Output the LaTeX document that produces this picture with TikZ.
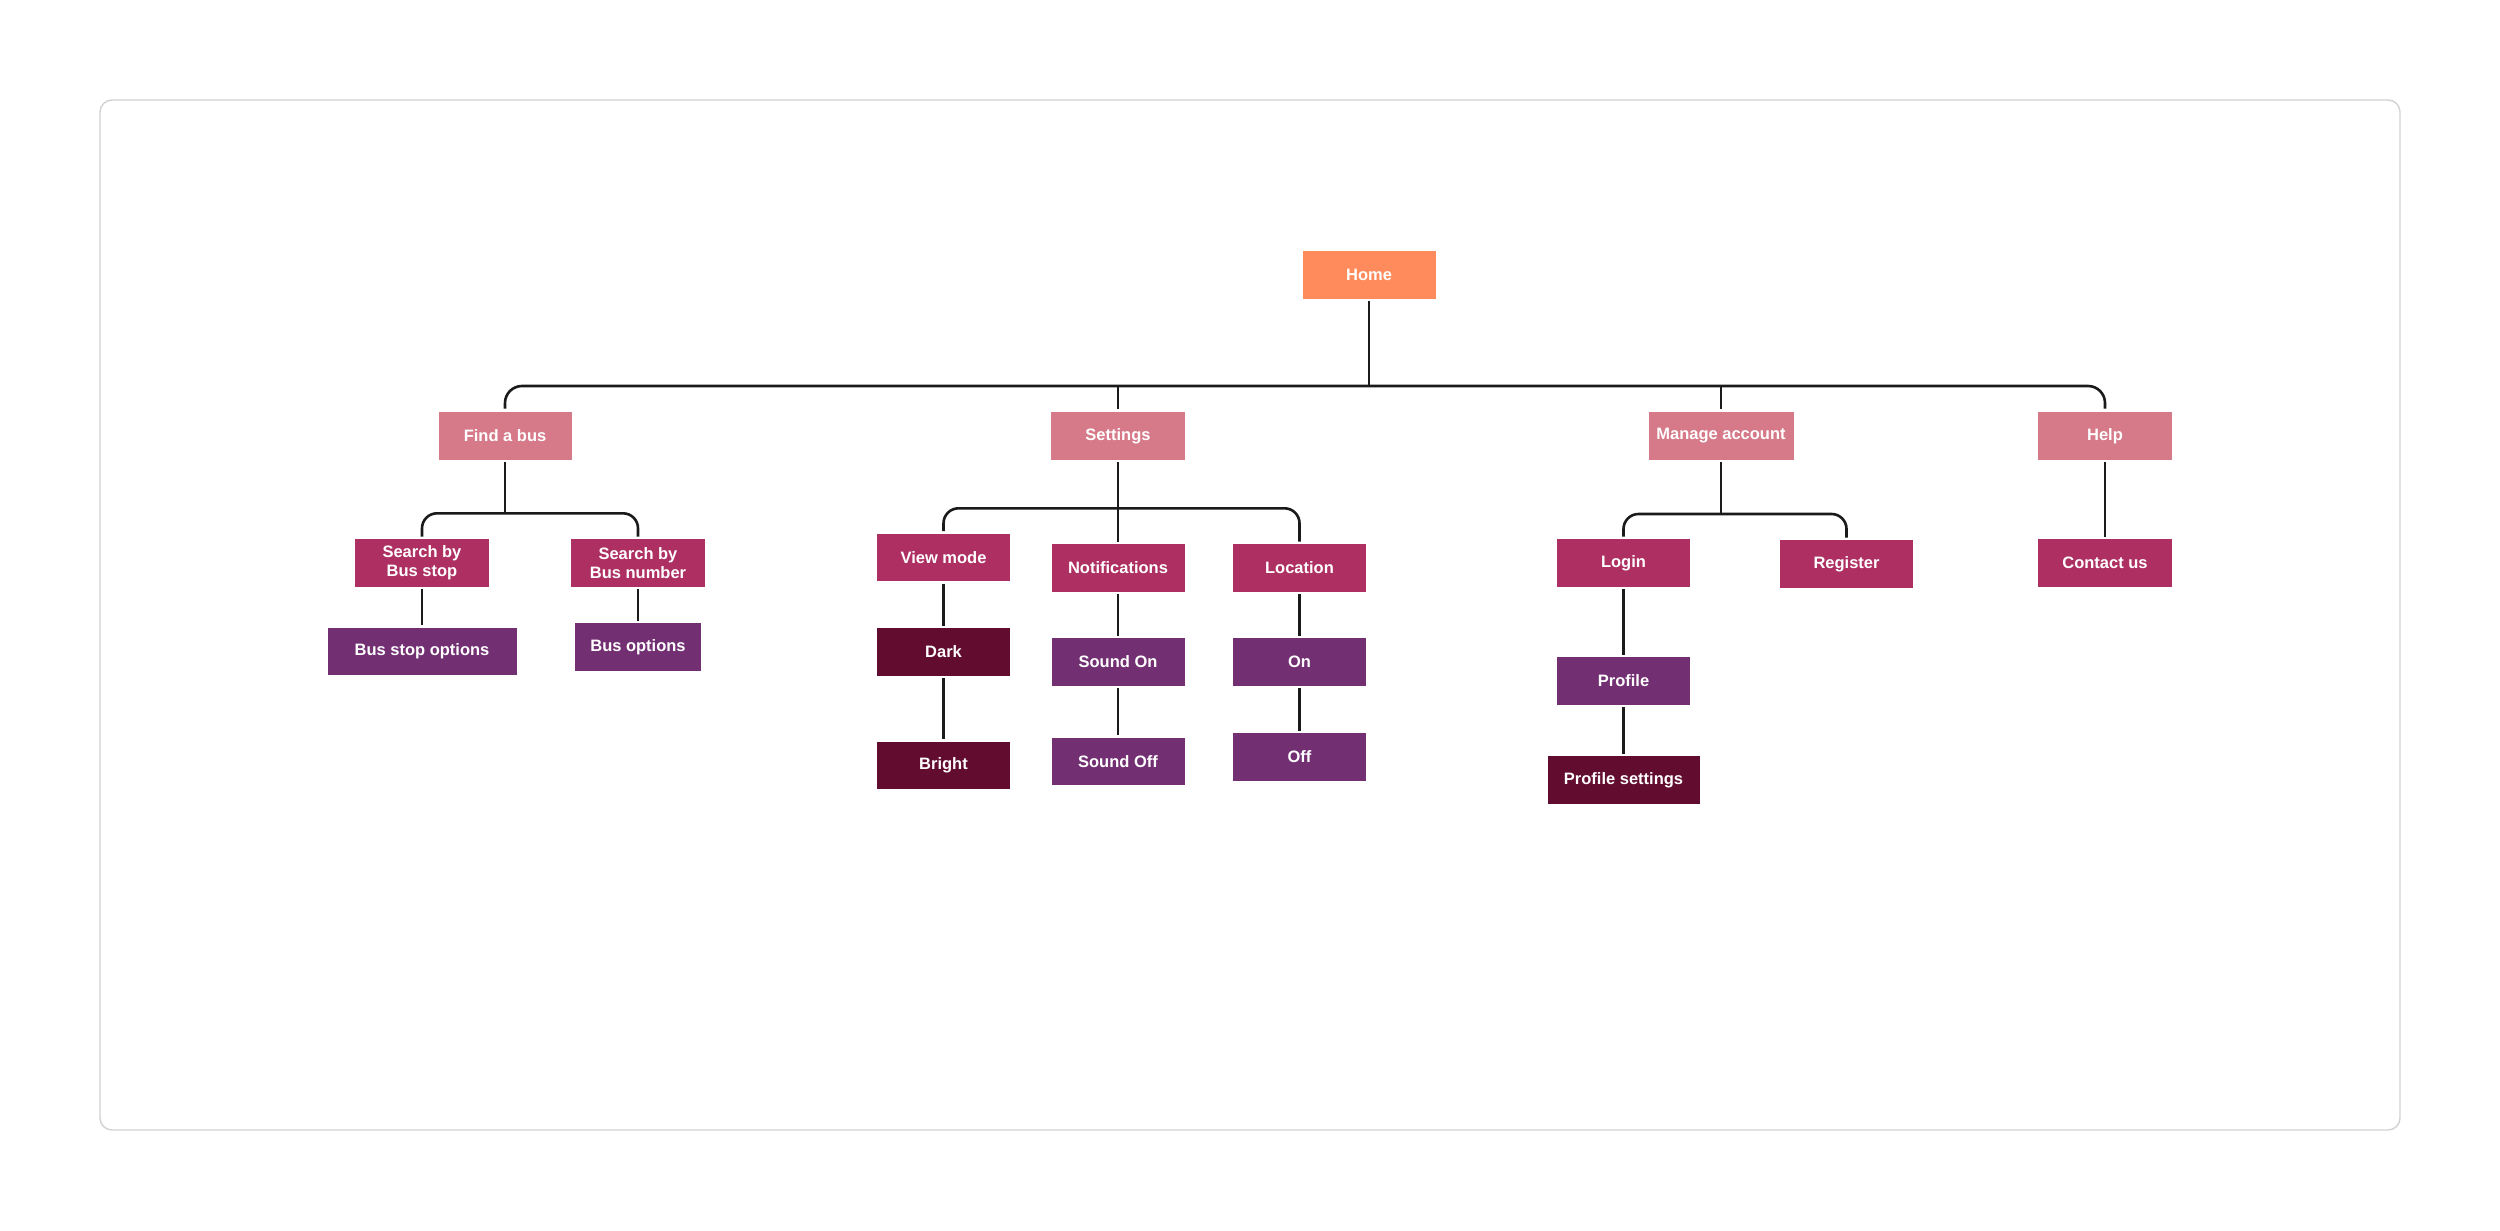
\documentclass[tikz,border=0pt]{standalone}
\usepackage{fontspec}
\setmainfont{Liberation Sans}
\usetikzlibrary{calc}
\definecolor{homec}{HTML}{FF8A5C}
\definecolor{lvlone}{HTML}{D67A89}
\definecolor{rasp}{HTML}{AE2F62}
\definecolor{purp}{HTML}{722F72}
\definecolor{maroon}{HTML}{620D30}
\definecolor{linec}{HTML}{1A1A1A}
\definecolor{framec}{HTML}{D2D2D2}
\tikzset{
  box/.style={inner sep=0pt, text=white, font=\fontsize{16.5}{19}\selectfont\bfseries, align=center, minimum height=47.5pt},
  homebox/.style={box, fill=homec},
  onebox/.style={box, fill=lvlone},
  raspbox/.style={box, fill=rasp},
  purpbox/.style={box, fill=purp},
  marbox/.style={box, fill=maroon},
  conn/.style={draw=linec, line width=2.6pt},
  gapped/.style={shorten <=2.5pt, shorten >=2.5pt}
}
\begin{document}
\begin{tikzpicture}[x=1pt,y=-1pt]
\useasboundingbox (0,0) rectangle (2500,1231);
\fill[white] (0,0) rectangle (2500,1231);
\draw[framec, line width=1.4pt, rounded corners=12pt] (100,100) rectangle (2400,1130);

% level 0
\node[homebox, minimum width=133pt] (home) at (1369,275) {Home};
% level 1
\node[onebox, minimum width=133pt] (findbus) at (505,436) {Find a bus};
\node[onebox, minimum width=134pt] (settings) at (1118,436) {Settings};
\node[onebox, minimum width=145pt] (manage) at (1721,436) {Manage account};
\node[onebox, minimum width=134pt] (help) at (2105,436) {Help};
% find a bus subtree
\node[raspbox, minimum width=134pt] (sbstop) at (422,563) {Search by\\Bus stop};
\node[raspbox, minimum width=134pt] (sbnum) at (638,563) {Search by\\Bus number};
\node[purpbox, minimum width=189pt] (bsopt) at (422,651.5) {Bus stop options};
\node[purpbox, minimum width=126pt] (bopt) at (638,647) {Bus options};
% settings subtree
\node[raspbox, minimum width=133pt] (viewmode) at (943.5,557.5) {View mode};
\node[raspbox, minimum width=133pt] (notif) at (1118,568) {Notifications};
\node[raspbox, minimum width=133pt] (location) at (1299.5,568) {Location};
\node[marbox, minimum width=133pt] (dark) at (943.5,652) {Dark};
\node[marbox, minimum width=133pt] (bright) at (943.5,765.5) {Bright};
\node[purpbox, minimum width=133pt] (soundon) at (1118,662) {Sound On};
\node[purpbox, minimum width=133pt] (soundoff) at (1118,761.5) {Sound Off};
\node[purpbox, minimum width=133pt] (on) at (1299.5,662) {On};
\node[purpbox, minimum width=133pt] (off) at (1299.5,757) {Off};
% manage account subtree
\node[raspbox, minimum width=133.5pt] (login) at (1623.5,563) {Login};
\node[raspbox, minimum width=133pt] (register) at (1846.5,564) {Register};
\node[purpbox, minimum width=133.5pt] (profile) at (1623.5,681) {Profile};
\node[marbox, minimum width=152pt] (profset) at (1623.5,780) {Profile settings};
% help subtree
\node[raspbox, minimum width=133.5pt] (contact) at (2105,563) {Contact us};

% bus coordinates
\coordinate (bus) at (1369,386);
\coordinate (busfind) at (505,513.3);
\coordinate (busset) at (1118,508.3);
\coordinate (busman) at (1721,514);

% main tree
\draw[conn, rounded corners=17pt, shorten <=3.5pt, shorten >=3.5pt] (findbus.north) |- (bus) -| (help.north);
\draw[conn, shorten <=2pt] (home.south) -- (home.south |- bus);
\draw[conn, shorten >=3pt] (settings.north |- bus) -- (settings.north);
\draw[conn, shorten >=3pt] (manage.north |- bus) -- (manage.north);

% find a bus
\draw[conn, shorten <=2.5pt] (findbus.south) -- (busfind);
\draw[conn, rounded corners=15pt, gapped] (sbstop.north) |- (busfind) -| (sbnum.north);
\draw[conn, gapped] (sbstop.south) -- (bsopt.north);
\draw[conn, gapped] (sbnum.south) -- (bopt.north);

% settings
\draw[conn, gapped] (settings.south) -- (notif.north);
\draw[conn, rounded corners=15pt, gapped] (viewmode.north) |- (busset) -| (location.north);
\draw[conn, gapped] (viewmode.south) -- (dark.north);
\draw[conn, gapped] (dark.south) -- (bright.north);
\draw[conn, gapped] (notif.south) -- (soundon.north);
\draw[conn, gapped] (soundon.south) -- (soundoff.north);
\draw[conn, gapped] (location.south) -- (on.north);
\draw[conn, gapped] (on.south) -- (off.north);

% manage account
\draw[conn, shorten <=2.5pt] (manage.south) -- (busman);
\draw[conn, rounded corners=15pt, gapped] (login.north) |- (busman) -| (register.north);
\draw[conn, gapped] (login.south) -- (profile.north);
\draw[conn, gapped] (profile.south) -- (profset.north);

% help
\draw[conn, gapped] (help.south) -- (contact.north);
\end{tikzpicture}
\end{document}
